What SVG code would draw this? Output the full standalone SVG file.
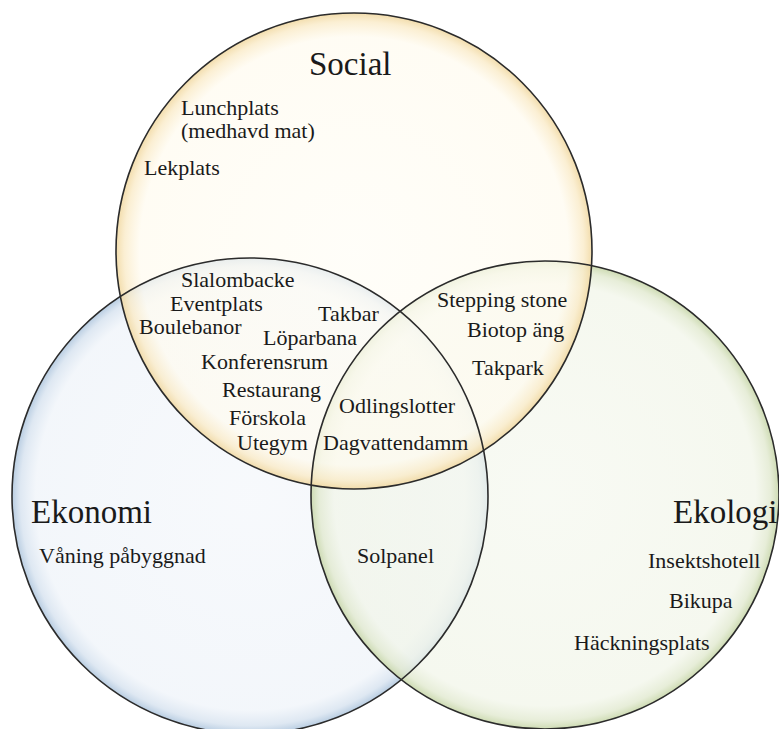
<svg xmlns="http://www.w3.org/2000/svg" width="779" height="729" viewBox="0 0 779 729">
<style>
.c{fill:none;stroke:#2b2b2b;stroke-width:1.6}
.t{font-family:"Liberation Serif","Times New Roman",serif;font-size:22px;fill:#1a1a1a}
.h{font-family:"Liberation Serif","Times New Roman",serif;font-size:33px;fill:#1a1a1a}
</style>
<defs>
<radialGradient id="gS" cx="50%" cy="50%" r="50%">
<stop offset="0" stop-color="#fffdf6" stop-opacity="0.7"/>
<stop offset="0.9" stop-color="#fffbef" stop-opacity="0.7"/>
<stop offset="0.965" stop-color="#faebc8" stop-opacity="0.8"/>
<stop offset="1" stop-color="#f1d9a3" stop-opacity="0.9"/>
</radialGradient>
<radialGradient id="gE" cx="50%" cy="50%" r="50%">
<stop offset="0" stop-color="#f4f7fb" stop-opacity="0.7"/>
<stop offset="0.9" stop-color="#eef3f9" stop-opacity="0.7"/>
<stop offset="0.965" stop-color="#d6e2ef" stop-opacity="0.8"/>
<stop offset="1" stop-color="#b0c7de" stop-opacity="0.9"/>
</radialGradient>
<radialGradient id="gK" cx="50%" cy="50%" r="50%">
<stop offset="0" stop-color="#f5f8ef" stop-opacity="0.7"/>
<stop offset="0.9" stop-color="#f1f5e8" stop-opacity="0.7"/>
<stop offset="0.965" stop-color="#e1e9cf" stop-opacity="0.8"/>
<stop offset="1" stop-color="#c8d7aa" stop-opacity="0.9"/>
</radialGradient>
</defs>
<rect width="779" height="729" fill="#ffffff"/>
<g id="ekonomi">
<circle cx="250" cy="496" r="238" fill="url(#gE)"/>
</g>
<g id="ekologi">
<circle cx="545" cy="495" r="234" fill="url(#gK)"/>
</g>
<g id="social">
<circle cx="354" cy="251" r="238" fill="url(#gS)"/>
</g>
<g id="outlines">
<circle class="c" cx="250" cy="496" r="238"/>
<circle class="c" cx="545" cy="495" r="234"/>
<circle class="c" cx="354" cy="251" r="238"/>
</g>
<g id="labels">
<text class="h" x="309" y="75">Social</text>
<text class="h" x="31" y="523">Ekonomi</text>
<text class="h" x="673" y="523">Ekologi</text>
<text class="t" x="181" y="115">Lunchplats</text>
<text class="t" x="181" y="138">(medhavd mat)</text>
<text class="t" x="144" y="175">Lekplats</text>
<text class="t" x="181" y="287">Slalombacke</text>
<text class="t" x="170" y="311">Eventplats</text>
<text class="t" x="139" y="334">Boulebanor</text>
<text class="t" x="318" y="321">Takbar</text>
<text class="t" x="263" y="345">Löparbana</text>
<text class="t" x="201" y="369">Konferensrum</text>
<text class="t" x="222" y="397">Restaurang</text>
<text class="t" x="229" y="425">Förskola</text>
<text class="t" x="237" y="450">Utegym</text>
<text class="t" x="339" y="413">Odlingslotter</text>
<text class="t" x="323" y="450">Dagvattendamm</text>
<text class="t" x="437" y="307">Stepping stone</text>
<text class="t" x="467" y="337">Biotop äng</text>
<text class="t" x="472" y="375">Takpark</text>
<text class="t" x="357" y="563">Solpanel</text>
<text class="t" x="39" y="563">Våning påbyggnad</text>
<text class="t" x="648" y="568">Insektshotell</text>
<text class="t" x="669" y="608">Bikupa</text>
<text class="t" x="574" y="650">Häckningsplats</text>
</g>
</svg>
